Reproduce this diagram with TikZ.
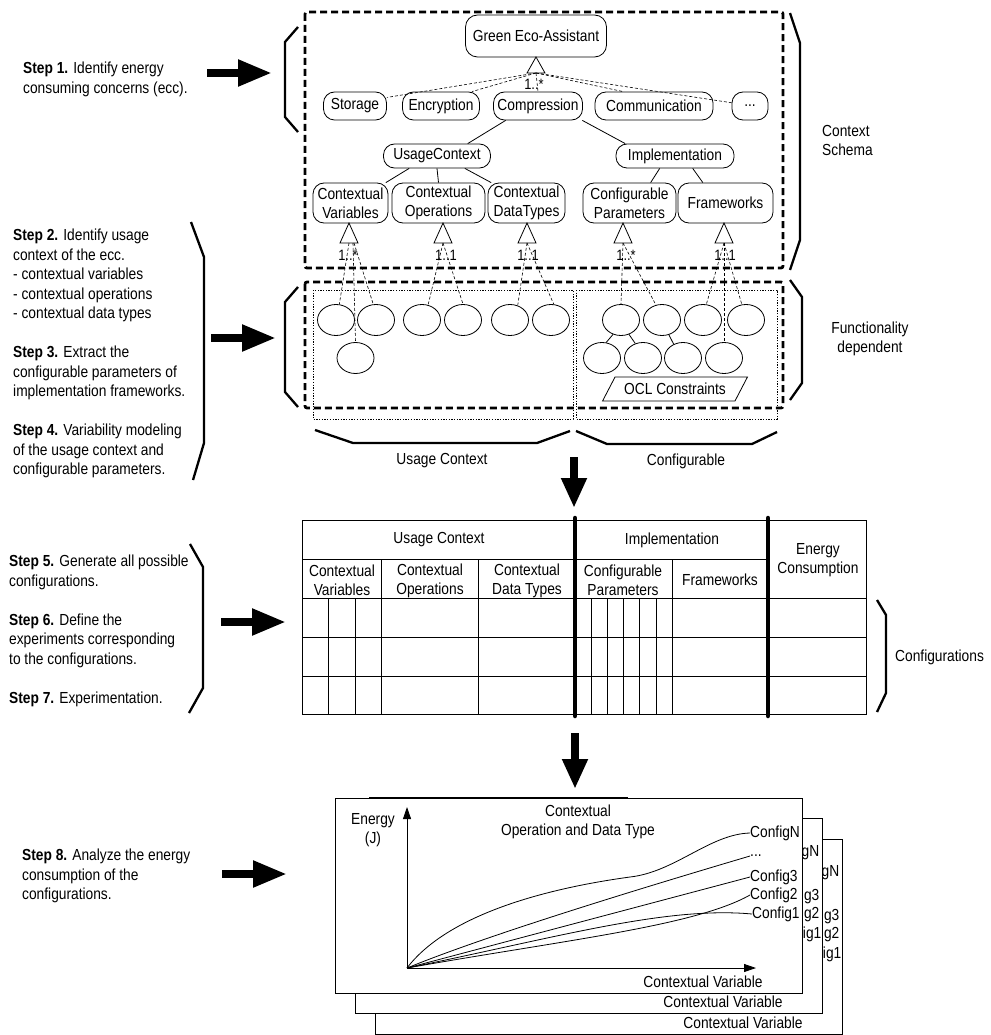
\documentclass[tikz,border=0pt]{standalone}
\usepackage{fontspec}
\setmainfont{Liberation Sans}[FakeStretch=0.86]
\usetikzlibrary{shapes.geometric,arrows.meta,calc}
\tikzset{
  rbox/.style={draw, fill=white, rounded corners=11pt, line width=0.8pt, align=center, inner sep=1pt},
  ell/.style={draw, ellipse, fill=white, line width=0.8pt, minimum width=37, minimum height=31, inner sep=0},
  dconn/.style={dash pattern=on 3pt off 2pt, line width=0.6pt},
  sconn/.style={line width=0.8pt},
  tri/.style={draw, fill=white, line width=0.8pt, line join=miter},
  thickdash/.style={line width=2.8pt, dash pattern=on 7pt off 4pt},
  dotbox/.style={line width=0.8pt, dash pattern=on 1.3pt off 1.4pt},
  bracket/.style={line width=2.3pt, line join=miter},
  bigarrow/.style={line width=8pt, -{Triangle[length=34pt,width=25pt]}},
  downarrow/.style={line width=8pt, -{Triangle[length=30pt,width=24pt]}},
  mult/.style={font=\fontsize{15}{15}\selectfont, inner sep=0},
  steptxt/.style={align=left, inner sep=0, anchor=north west, font=\fontsize{16}{19.5}\selectfont},
  lbl/.style={inner sep=1pt, align=center},
  thinline/.style={line width=0.8pt},
  thickv/.style={line width=4.5pt, line cap=round},
  axisarrow/.style={line width=0.8pt, -{Triangle[length=12pt,width=8pt]}},
  curve/.style={line width=0.8pt},
  frag/.style={inner sep=0, anchor=east},
  pics/chartback/.style={code={
    \draw[thinline, fill=white] (0,0) rectangle (467,195);
    \node[lbl] (-cv) at (368,184) {Contextual Variable};
  }},
  pics/chart/.style={code={
    \draw[thinline, fill=white] (0,0) rectangle (467,195);
    \draw[line width=2.2pt] (34,0) -- (293,0);
    \coordinate (-o) at (72,170);
    \coordinate (-yt) at (72,9);
    \coordinate (-xe) at (421,170);
    \draw[axisarrow] (-o) -- (-yt);
    \draw[axisarrow] (-o) -- (-xe);
    \node[lbl] (-en) at (38,32) {Energy\\(J)};
    \node[lbl] (-ti) at (243,24) {Contextual\\Operation and Data Type};
    \node[lbl, anchor=west, inner sep=0] (-cn) at (415,35) {ConfigN};
    \node[lbl, anchor=west, inner sep=0] (-cd) at (415,58) {...};
    \node[lbl, anchor=west, inner sep=0] (-c3) at (415,79) {Config3};
    \node[lbl, anchor=west, inner sep=0] (-c2) at (415,97) {Config2};
    \node[lbl, anchor=west, inner sep=0] (-c1) at (417,116) {Config1};
    \node[lbl] (-cv) at (368,184) {Contextual Variable};
    \draw[curve] (-o) .. controls (110,120) and (200,92) .. (295,79)
                      .. controls (340,74) and (375,36) .. (-cn.west);
    \draw[curve] (-o) .. controls (150,138) and (300,92) .. (-cd.west);
    \draw[curve] (-o) -- (-c3.west);
    \draw[curve] (-o) .. controls (230,142) and (360,128) .. (-c2.west);
    \draw[curve] (-o) .. controls (220,140) and (330,108) .. (-c1.west);
  }}
}
\begin{document}
\begin{tikzpicture}[x=1pt, y=-1pt, font=\fontsize{16}{19}\selectfont]
\useasboundingbox (0,0) rectangle (990,1035);

% ---------- dashed frames ----------
\draw[thickdash, rounded corners=2pt] (305,12) rectangle (783,268);
\draw[thickdash, rounded corners=2pt] (305,282) rectangle (783,408);
\draw[dotbox] (313,290) rectangle (573,419);
\draw[dotbox] (576,290) rectangle (777,419);

% ---------- context schema nodes ----------
\node[rbox, rounded corners=12pt, minimum width=141, minimum height=42] (gea) at (536,36) {Green Eco-Assistant};
\node[rbox, minimum width=63, minimum height=28] (sto) at (355,106) {Storage};
\node[rbox, minimum width=77, minimum height=28] (enc) at (441,106) {Encryption};
\node[rbox, minimum width=89, minimum height=28] (com) at (538,106) {Compression};
\node[rbox, minimum width=118, minimum height=28] (cmm) at (654,106) {Communication};
\node[rbox, minimum width=36, minimum height=28] (dts) at (750,106) {...};
\node[rbox, minimum width=107, minimum height=24] (uc) at (437,156) {UsageContext};
\node[rbox, minimum width=118, minimum height=24] (imp) at (675,156) {Implementation};
\node[rbox, minimum width=75, minimum height=40] (cv) at (350.5,203) {Contextual\\Variables};
\node[rbox, minimum width=93, minimum height=40] (co) at (438.5,203) {Contextual\\Operations};
\node[rbox, minimum width=77, minimum height=40] (cdt) at (526.5,203) {Contextual\\DataTypes};
\node[rbox, minimum width=93, minimum height=40] (cp) at (629.5,203) {Configurable\\Parameters};
\node[rbox, minimum width=95, minimum height=40] (fw) at (725.5,203) {Frameworks};

% top inheritance triangle
\coordinate (t0) at (536,57);
\coordinate (b0) at (536,73);
\draw[tri] (t0) -- ++(-9,16) -- ++(18,0) -- cycle;
\draw[dconn] (b0) -- (sto.15);
\draw[dconn] (b0) -- (enc.25);
\draw[dconn] (b0) -- (com.north);
\draw[dconn] (b0) -- (cmm.155);
\draw[dconn] (b0) -- (dts.170);
\node[mult] (m0) at (534,84) {1..*};

% solid tree lines
\draw[sconn] (com.204) -- (uc.22);
\draw[sconn] (com.342) -- (imp.166);
\draw[sconn] (uc.204) -- (cv.30);
\draw[sconn] (uc.south) -- (co.north);
\draw[sconn] (uc.336) -- (cdt.150);
\draw[sconn] (imp.219) -- (cp.44);
\draw[sconn] (imp.325) -- (fw.138);

% lower triangles
\coordinate (tCV) at (349,223);  \coordinate (bCV) at (349,243);
\coordinate (tCO) at (443,223);  \coordinate (bCO) at (443,243);
\coordinate (tDT) at (527,223);  \coordinate (bDT) at (527,243);
\coordinate (tCP) at (623,223);  \coordinate (bCP) at (623,243);
\coordinate (tFW) at (724,223);  \coordinate (bFW) at (724,243);
\draw[tri] (tCV) -- ++(-9,20) -- ++(18,0) -- cycle;
\draw[tri] (tCO) -- ++(-9,20) -- ++(18,0) -- cycle;
\draw[tri] (tDT) -- ++(-9,20) -- ++(18,0) -- cycle;
\draw[tri] (tCP) -- ++(-9,20) -- ++(18,0) -- cycle;
\draw[tri] (tFW) -- ++(-9,20) -- ++(18,0) -- cycle;

% ---------- functionality dependent ellipses ----------
\node[ell] (e1) at (336,320) {};
\node[ell] (e2) at (376,320) {};
\node[ell] (e3) at (422,320) {};
\node[ell] (e4) at (463,320) {};
\node[ell] (e5) at (510,320) {};
\node[ell] (e6) at (551,320) {};
\node[ell] (e7) at (621,320) {};
\node[ell] (e8) at (662,320) {};
\node[ell] (e9) at (703,320) {};
\node[ell] (e10) at (746,320) {};
\node[ell] (e11) at (355.5,358) {};
\node[ell] (f1) at (602,358) {};
\node[ell] (f2) at (643,358) {};
\node[ell] (f3) at (683,358) {};
\node[ell] (f4) at (724,358) {};

\draw[dconn] (bCV) -- (e1.78);
\draw[dconn] ($(bCV)+(4,0)$) -- (e11.north);
\draw[dconn] ($(bCV)+(5,0)$) -- (e2.100);
\draw[dconn] (bCO) -- (e3.68);
\draw[dconn] (bCO) -- (e4.north);
\draw[dconn] (bDT) -- (e5.62);
\draw[dconn] (bDT) -- (e6.80);
\draw[dconn] (bCP) -- (e7.north);
\draw[dconn] (bCP) -- (e8.112);
\draw[dconn] (bFW) -- (e9.78);
\draw[dconn] (bFW) -- (f4.north);
\draw[dconn] (bFW) -- (e10.105);
\draw[sconn] (e7.241) -- (f1.75);
\draw[sconn] (e7.299) -- (f2.118);
\draw[sconn] (e8.295) -- (f3.124);

\node[mult] (m1) at (348,255) {1..*};
\node[mult] (m2) at (446,255) {1..1};
\node[mult] (m3) at (528,255) {1..1};
\node[mult] (m4) at (626,255) {1..*};
\node[mult] (m5) at (725,255) {1..1};

\node[draw, fill=white, line width=0.8pt, trapezium, trapezium left angle=48, trapezium right angle=132,
      trapezium stretches=true, minimum width=145, minimum height=24, inner sep=0] (ocl) at (675,389) {OCL Constraints};

% bottom braces
\draw[bracket] (315,430) -- (353,443) -- (537,443) -- (570,431);
\draw[bracket] (576,431) -- (607,444) -- (752,444) -- (777,432);
\node[lbl] (luc) at (442,461) {Usage Context};
\node[lbl] (lcf) at (686,461) {Configurable};

% right braces and labels
\draw[bracket] (790,13) -- (800,43) -- (800,240) -- (790,270);
\draw[bracket] (790,280) -- (802,297) -- (802,383) -- (790,400);
\node[lbl, align=left, anchor=west, inner sep=0] (lcs) at (822,140) {Context\\Schema};
\node[lbl] (lfd) at (870,339) {Functionality\\dependent};

% left braces
\draw[bracket] (298,27) -- (285,42) -- (285,117) -- (298,132);
\draw[bracket] (298,287) -- (285,302) -- (285,392) -- (298,407);
\draw[bracket] (191,222) -- (204,257) -- (204,443) -- (193,480);
\draw[bracket] (190,544) -- (203,567) -- (203,688) -- (189,713);

% step texts
\node[steptxt] (s1) at (23,62) {\textbf{Step 1.} Identify energy\\consuming concerns (ecc).};
\node[steptxt] (s2) at (13,229) {\textbf{Step 2.} Identify usage\\context of the ecc.\\- contextual variables\\- contextual operations\\- contextual data types\\[19.5pt]\textbf{Step 3.} Extract the\\configurable parameters of\\implementation frameworks.\\[19.5pt]\textbf{Step 4.} Variability modeling\\of the usage context and\\configurable parameters.};
\node[steptxt] (s5) at (9,555) {\textbf{Step 5.} Generate all possible\\configurations.\\[19.5pt]\textbf{Step 6.} Define the\\experiments corresponding\\to the configurations.\\[19.5pt]\textbf{Step 7.} Experimentation.};
\node[steptxt] (s8) at (22,849) {\textbf{Step 8.} Analyze the energy\\consumption of the\\configurations.};

% step arrows
\coordinate (a1s) at (207,73);  \coordinate (a1e) at (272,73);
\coordinate (a2s) at (211,338); \coordinate (a2e) at (276,338);
\coordinate (a3s) at (221,622); \coordinate (a3e) at (286,622);
\coordinate (a4s) at (222,874); \coordinate (a4e) at (287,874);
\draw[bigarrow] (a1s) -- (a1e);
\draw[bigarrow] (a2s) -- (a2e);
\draw[bigarrow] (a3s) -- (a3e);
\draw[bigarrow] (a4s) -- (a4e);

% down arrows
\coordinate (d1s) at (574,457); \coordinate (d1e) at (574,508);
\coordinate (d2s) at (575,733); \coordinate (d2e) at (575,789);
\draw[downarrow] (d1s) -- (d1e);
\draw[downarrow] (d2s) -- (d2e);

% ---------- configuration table ----------
\draw[thinline] (302,520) rectangle (866,714);
\draw[thinline] (302,559) -- (768,559);
\draw[thinline] (302,598) -- (866,598);
\draw[thinline] (302,637) -- (866,637);
\draw[thinline] (302,676) -- (866,676);
\foreach \xx in {381,478,672} { \draw[thinline] (\xx,559) -- (\xx,714); }
\foreach \xx in {328,355,591,607,623,639,656} { \draw[thinline] (\xx,598) -- (\xx,714); }
\draw[thickv] (575,518) -- (575,716);
\draw[thickv] (768,518) -- (768,716);
\node[lbl] (huc) at (439,540) {Usage Context};
\node[lbl] (him) at (672,540) {Implementation};
\node[lbl] (hen) at (818,560) {Energy\\Consumption};
\node[lbl] (hcv) at (342,580.5) {Contextual\\Variables};
\node[lbl] (hco) at (430,580.5) {Contextual\\Operations};
\node[lbl] (hdt) at (527,580.5) {Contextual\\Data Types};
\node[lbl] (hcp) at (623,580.5) {Configurable\\Parameters};
\node[lbl] (hfw) at (720,580) {Frameworks};
\draw[bracket] (877,600) -- (886,615) -- (886,693) -- (877,712);
\node[lbl, anchor=west, inner sep=0] (lcg) at (895,657) {Configurations};

% ---------- charts ----------
\pic (chC) at (375,839) {chartback};
\node[frag] (cgN) at (839.5,873) {gN};
\node[frag] (cg3) at (839.5,917) {g3};
\node[frag] (cg2) at (839.5,935) {g2};
\node[frag] (cg1) at (841.5,954) {ig1};
\pic (chB) at (355,818) {chartback};
\node[frag] (bgN) at (819.5,853) {gN};
\node[frag] (bg3) at (819.5,897) {g3};
\node[frag] (bg2) at (819.5,915) {g2};
\node[frag] (bg1) at (821.5,934) {ig1};
\pic (chA) at (335,798) {chart};
\end{tikzpicture}
\end{document}
